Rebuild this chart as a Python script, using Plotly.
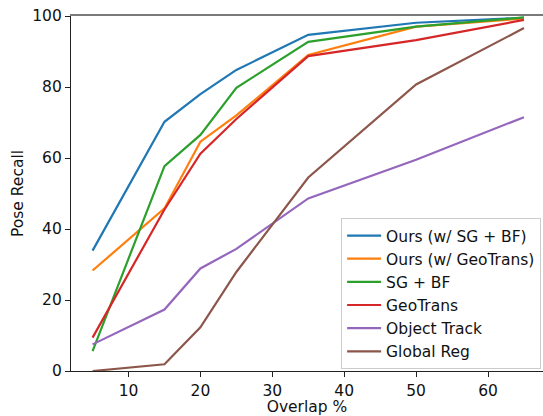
import plotly.graph_objects as go

overlap = [5, 15, 20, 25, 35, 50, 65]
ours_sg_bf = [33.9, 70.2, 78.0, 84.8, 94.7, 98.1, 99.5]
ours_geotrans = [28.3, 45.8, 64.6, 72.0, 89.0, 97.0, 99.3]
sg_bf = [5.6, 57.7, 66.5, 79.8, 92.7, 97.0, 99.6]
geotrans = [9.4, 45.5, 61.2, 71.0, 88.7, 93.2, 98.9]
object_track = [7.5, 17.3, 28.9, 34.4, 48.6, 59.5, 71.5]
global_reg = [0.0, 1.9, 12.3, 27.9, 54.5, 80.7, 96.6]

series = [
    ("Ours (w/ SG + BF)", ours_sg_bf, "#1f77b4"),
    ("Ours (w/ GeoTrans)", ours_geotrans, "#ff7f0e"),
    ("SG + BF", sg_bf, "#2ca02c"),
    ("GeoTrans", geotrans, "#d62728"),
    ("Object Track", object_track, "#9467bd"),
    ("Global Reg", global_reg, "#8c564b"),
]

fig = go.Figure()
for i, (name, vals, color) in enumerate(series):
    fig.add_trace(go.Scatter(x=overlap, y=vals, mode="lines", name=name,
                             line=dict(color=color, width=2.2),
                             legendgroup=f"g{i}"))

# invisible trace for top spine axis
fig.add_trace(go.Scatter(x=[overlap[0]], y=[0], xaxis="x2", mode="markers",
                         marker=dict(opacity=0), showlegend=False, hoverinfo="skip"))

font = dict(family="DejaVu Sans", size=15.5, color="#111111")
legend_font = dict(family="DejaVu Sans", size=15.5, color="#111111")
fig.update_layout(
    width=543, height=416,
    margin=dict(l=71, r=0, t=16, b=45),
    paper_bgcolor="white", plot_bgcolor="white",
    font=font,
    showlegend=True,
    xaxis=dict(range=[2, 67.65], tickvals=[10, 20, 30, 40, 50, 60],
               showgrid=False, zeroline=False, showline=True, linecolor="#222222",
               linewidth=1.2, ticks="outside", ticklen=5, tickcolor="#222222",
               tickfont=font,
               title=dict(text="Overlap %", standoff=5, font=font)),
    xaxis2=dict(range=[2, 67.65], overlaying="x", side="top", showline=True,
                linecolor="#7a7a7a", linewidth=2, showticklabels=False,
                showgrid=False, zeroline=False, ticks=""),
    yaxis=dict(range=[0, 100], tickvals=[0, 20, 40, 60, 80, 100],
               showgrid=False, zeroline=False, showline=True, linecolor="#222222",
               linewidth=1.2, ticks="outside", ticklen=5, tickcolor="#222222",
               tickfont=font,
               title=dict(text="Pose Recall", standoff=4, font=font)),
    legend=dict(x=0.996, y=0.431, xanchor="right", yanchor="top",
                bgcolor="rgba(255,255,255,0.8)", bordercolor="#cccccc",
                borderwidth=1, font=legend_font, itemwidth=34,
                tracegroupgap=0),
)

fig.write_html("out.html", config={"displayModeBar": False},
               post_script="document.body.style.margin='0';")
